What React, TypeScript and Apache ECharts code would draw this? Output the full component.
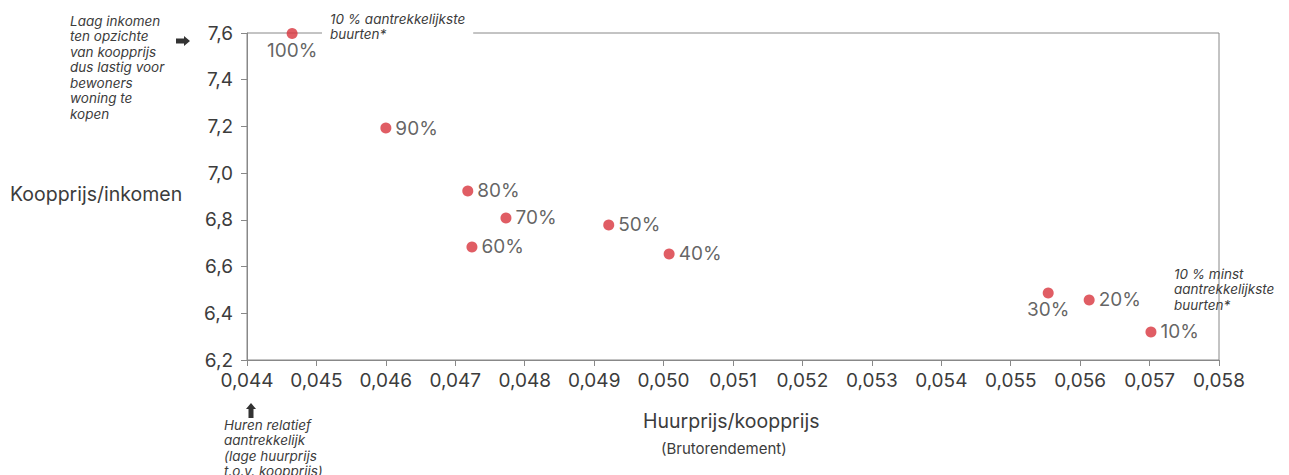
import React, { useEffect, useRef } from "react";
import * as echarts from "echarts";

const labels = ["100%", "90%", "80%", "70%", "60%", "50%", "40%", "30%", "20%", "10%"];
const huurKoop = [0.04465, 0.046, 0.04718, 0.04773, 0.04724, 0.04921, 0.05008, 0.05554, 0.05613, 0.05702];
const koopInkomen = [7.598, 7.193, 6.924, 6.808, 6.684, 6.778, 6.654, 6.487, 6.457, 6.32];
const labelBelow = ["100%", "30%"];

const FONT = "Inter";
const TXT = "#3c3c3c";

export default function App() {
  const ref = useRef<HTMLDivElement>(null);
  useEffect(() => {
    const chart = echarts.init(ref.current!, null, { renderer: "svg" });
    const data = labels.map((l, i) => ({
      value: [huurKoop[i], koopInkomen[i]],
      name: l,
      label: labelBelow.includes(l)
        ? { position: "bottom", distance: 2 }
        : { position: "right", distance: 4 },
    }));
    const it = { fontStyle: "italic", fontSize: 13.5, fill: TXT, fontFamily: FONT, lineHeight: 15.5 } as any;
    chart.setOption({
      animation: false,
      grid: { left: 247, right: 70, top: 33, bottom: 115, show: true, borderColor: "#888", borderWidth: 1 },
      xAxis: {
        type: "value",
        min: 0.044,
        max: 0.058,
        interval: 0.001,
        axisLine: { show: true, lineStyle: { color: "#888" } },
        axisTick: { show: true, length: 6, lineStyle: { color: "#888" } },
        splitLine: { show: false },
        axisLabel: {
          color: TXT,
          fontSize: 19,
          fontFamily: FONT,
          margin: 11,
          formatter: (v: number) => v.toFixed(3).replace(".", ","),
        },
      },
      yAxis: {
        type: "value",
        min: 6.2,
        max: 7.6,
        interval: 0.2,
        axisLine: { show: true, lineStyle: { color: "#888" } },
        axisTick: { show: true, length: 6, lineStyle: { color: "#888" } },
        splitLine: { show: false },
        axisLabel: {
          color: TXT,
          fontSize: 19,
          fontFamily: FONT,
          margin: 14,
          formatter: (v: number) => v.toFixed(1).replace(".", ","),
        },
      },
      series: [
        {
          type: "scatter",
          symbolSize: 11,
          itemStyle: { color: "#d8343d" },
          label: {
            show: true,
            formatter: "{b}",
            color: TXT,
            fontSize: 19,
            fontFamily: FONT,
          },
          data,
        },
      ],
      graphic: [
        { type: "text", left: 10, top: 184, style: { text: "Koopprijs/inkomen", fontSize: 19.5, fill: TXT, fontFamily: FONT } },
        { type: "text", left: 643, top: 411, style: { text: "Huurprijs/koopprijs", fontSize: 19.5, fill: TXT, fontFamily: FONT } },
        { type: "text", left: 661, top: 441, style: { text: "(Brutorendement)", fontSize: 15, fill: TXT, fontFamily: FONT } },
        {
          type: "text",
          left: 70,
          top: 13,
          style: { ...it, text: "Laag inkomen\nten opzichte\nvan koopprijs\ndus lastig voor\nbewoners\nwoning te\nkopen" },
        },
        {
          type: "polygon",
          shape: { points: [[176, 38.5], [184, 38.5], [184, 36], [190, 41], [184, 46], [184, 43.5], [176, 43.5]] },
          style: { fill: "#333" },
        },
        {
          type: "polygon",
          shape: { points: [[248.5, 418], [248.5, 409], [246, 409], [251, 403], [256, 409], [253.5, 409], [253.5, 418]] },
          style: { fill: "#333" },
        },
        {
          type: "text",
          left: 224,
          top: 417,
          style: { ...it, text: "Huren relatief\naantrekkelijk\n(lage huurprijs\nt.o.v. koopprijs)" },
        },
        {
          type: "text",
          left: 322,
          top: 11,
          z: 100,
          style: {
            ...it,
            text: "10 % aantrekkelijkste\nbuurten*",
            backgroundColor: "#fff",
            padding: [0, 8, 0, 8],
          },
        },
        {
          type: "text",
          left: 1174,
          top: 266,
          style: { ...it, text: "10 % minst\naantrekkelijkste\nbuurten*" },
        },
      ],
    });
    return () => chart.dispose();
  }, []);
  return <div ref={ref} style={{ width: 1289, height: 475, marginLeft: -8, marginTop: -8 }} />;
}
